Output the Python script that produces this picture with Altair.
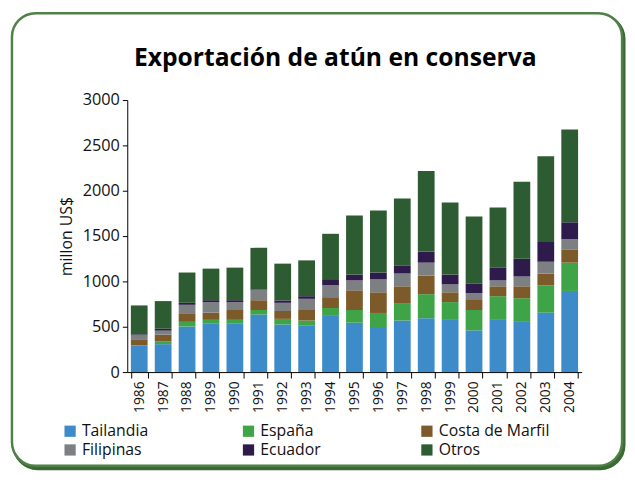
import altair as alt
import pandas as pd

years = [str(y) for y in range(1986, 2005)]
series = ["Tailandia", "España", "Costa de Marfil", "Filipinas", "Ecuador", "Otros"]
colors = ["#3d8bc8", "#3ea447", "#7d5a29", "#7d8083", "#2e1b4c", "#2e5c32"]
title_text = "Exportación de atún en conserva"

tailandia = [290, 308, 503, 533, 533, 634, 525, 511, 620, 545, 486, 569, 594, 576, 460, 576, 554, 656, 895]
espana    = [3, 29, 51, 43, 43, 51, 62, 58, 87, 140, 166, 192, 265, 196, 225, 261, 261, 301, 312]
costa     = [69, 76, 87, 80, 109, 108, 87, 116, 119, 217, 228, 185, 206, 108, 119, 109, 131, 130, 141]
filipinas = [43, 44, 101, 116, 87, 109, 90, 123, 131, 109, 142, 141, 142, 87, 66, 65, 108, 130, 119]
ecuador   = [11, 21, 22, 21, 21, 10, 26, 29, 68, 65, 76, 87, 119, 109, 108, 141, 196, 218, 185]
otros     = [319, 305, 334, 348, 359, 458, 406, 395, 500, 652, 685, 739, 891, 794, 739, 663, 848, 946, 1022]

values = [tailandia, espana, costa, filipinas, ecuador, otros]
rows = []
for si, (name, vals) in enumerate(zip(series, values)):
    for y, v in zip(years, vals):
        rows.append({"Año": y, "Serie": name, "Valor": v, "orden": si})
df = pd.DataFrame(rows)

FONT = "Open Sans"

bars = alt.Chart(df).mark_bar(size=17).encode(
    x=alt.X("Año:N", sort=years, title=None,
            scale=alt.Scale(paddingInner=0.3, paddingOuter=0.15),
            axis=alt.Axis(labelAngle=-90, labelFontSize=14, tickBand="extent",
                          tickSize=6, domainColor="black", tickColor="black",
                          labelColor="#111", labelFont=FONT, labelPadding=3, zindex=1)),
    y=alt.Y("Valor:Q", stack="zero", title="millon US$",
            scale=alt.Scale(domain=[0, 3000], nice=False),
            axis=alt.Axis(values=[0, 500, 1000, 1500, 2000, 2500, 3000], grid=False,
                          format="d",
                          labelFontSize=16.5, titleFontSize=16, titleFontWeight="normal",
                          labelFont=FONT, titleFont=FONT, tickSize=5,
                          domainColor="black", tickColor="black", labelColor="#111",
                          titleColor="#111", titlePadding=8, labelPadding=3, zindex=1)),
    color=alt.Color("Serie:N", sort=series,
                    scale=alt.Scale(domain=series, range=colors),
                    legend=alt.Legend(title=None, orient="none", legendX=-66, legendY=328,
                                      columns=3, direction="horizontal", gridAlign="all",
                                      columnPadding=48, rowPadding=3,
                                      symbolType="square", symbolSize=130, symbolStrokeWidth=0,
                                      labelFontSize=16, labelFont=FONT, labelColor="#111",
                                      labelOffset=4, labelLimit=200, zindex=1)),
    order=alt.Order("orden:Q", sort="ascending"),
)

frame_df = pd.DataFrame({"k": [0]})
shadow = alt.Chart(frame_df).mark_rect(cornerRadius=24, fill="#3a6a34", stroke="#3a6a34",
                                       strokeWidth=3).encode(
    x=alt.value(-115), x2=alt.value(504), y=alt.value(-86), y2=alt.value(374))
frame = alt.Chart(frame_df).mark_rect(cornerRadius=24, fill="white", stroke="#4f8048",
                                      strokeWidth=2.5).encode(
    x=alt.value(-117), x2=alt.value(502), y=alt.value(-88), y2=alt.value(371))

title_df = pd.DataFrame({"t": [title_text]})
title = alt.Chart(title_df).mark_text(fontSize=25, font=FONT, fontWeight="bold",
                                      color="black", align="center",
                                      baseline="alphabetic").encode(
    text="t:N", x=alt.value(211), y=alt.value(-35))

chart = alt.layer(shadow, frame, bars, title).properties(
    width=461, height=276,
    autosize=alt.AutoSizeParams(type="none"),
    padding={"left": 121, "top": 90, "right": 46, "bottom": 100},
).configure_view(stroke=None)

chart.save("out.html", embed_options={"renderer": "svg", "actions": False})
